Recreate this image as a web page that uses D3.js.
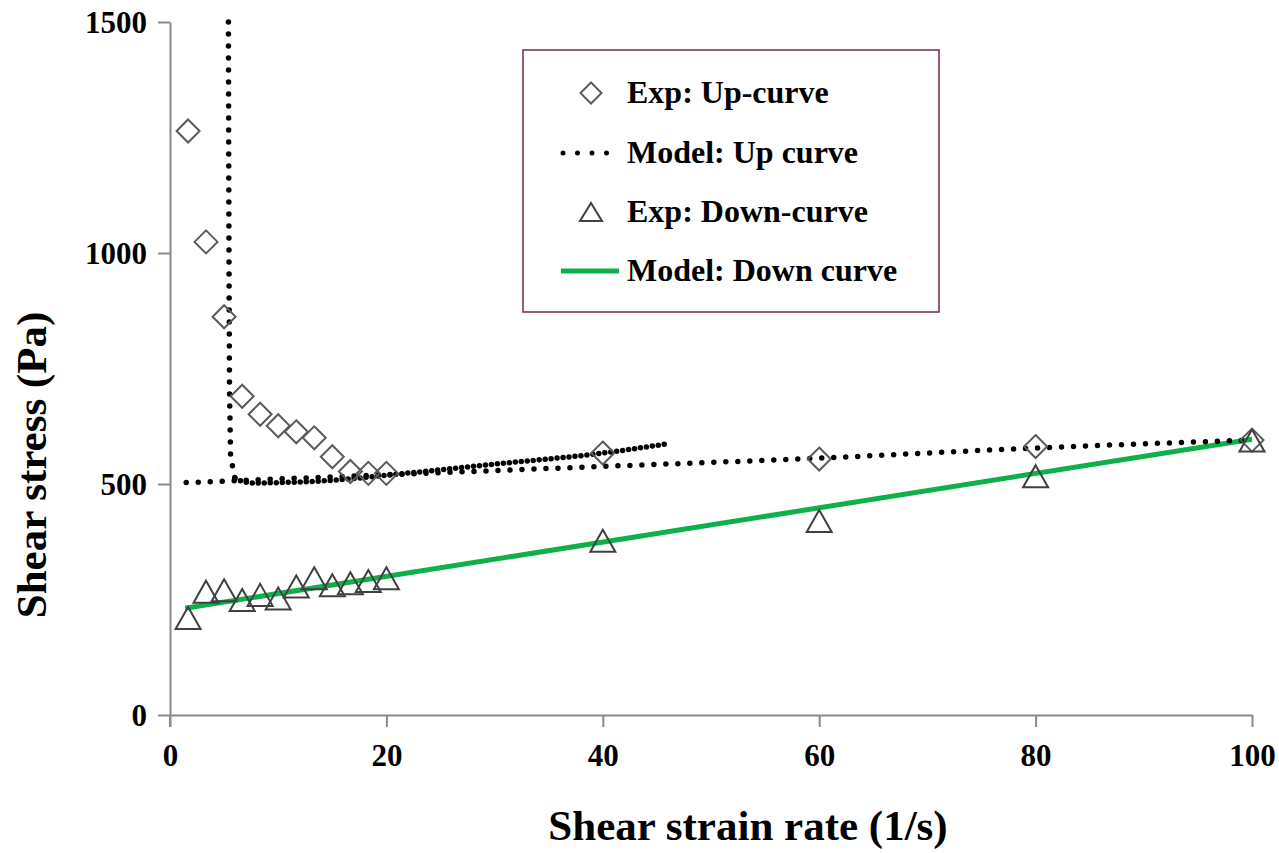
<!DOCTYPE html>
<html>
<head>
<meta charset="utf-8">
<script src="https://cdn.jsdelivr.net/npm/d3@7"></script>
<style>
  body { margin: 0; background: #fff; }
  text { font-family: "Liberation Serif", "Times New Roman", serif; font-weight: bold; }
</style>
</head>
<body>
<div id="chart"></div>
<script>
// experimental up curve (diamonds)
var upX = [1.67, 3.33, 5, 6.67, 8.33, 10, 11.67, 13.33, 15, 16.67, 18.33, 20, 40, 60, 80, 100];
var upY = [1264, 1024, 862, 690, 651, 626, 613, 600, 559, 527, 523, 523, 567, 554, 581, 595];

// experimental down curve (triangles)
var downX = [1.67, 3.33, 5, 6.67, 8.33, 10, 11.67, 13.33, 15, 16.67, 18.33, 20, 40, 60, 80, 100];
var downY = [210, 267, 270, 249, 260, 252, 278, 296, 281, 285, 290, 296, 377, 420, 517, 594];

// model up curve: long base branch, spike and the short dense branch
var modelBaseX = [1.5, 20, 40, 60, 80, 100];
var modelBaseY = [503, 520, 538, 556, 578, 595];
var modelSpikeX = [5.4, 5.45, 5.5, 5.6, 6.0];
var modelSpikeY = [1500, 1000, 700, 560, 512];
var modelDenseX = [6.0, 7, 8, 10, 15, 20, 30, 40, 46];
var modelDenseY = [512, 504, 502, 503, 508, 519, 543, 567, 587];

// model down curve (green line)
var modelDownX = [1.4, 100];
var modelDownY = [231, 597];

var xTicks = [0, 20, 40, 60, 80, 100];
var yTicks = [0, 500, 1000, 1500];

var legendLabels = ["Exp: Up-curve", "Model: Up curve", "Exp: Down-curve", "Model: Down curve"];

var width = 1279, height = 853;
var svg = d3.select("#chart").append("svg")
    .attr("width", width)
    .attr("height", height);

var x = d3.scaleLinear().domain([0, 100]).range([170, 1252]);
var y = d3.scaleLinear().domain([0, 1500]).range([715, 22]);

var axisColor = "#8a8a8a";

// X axis
var gx = svg.append("g")
    .attr("transform", "translate(0," + y(0) + ")")
    .call(d3.axisBottom(x).tickValues(xTicks).tickFormat(d3.format("d"))
      .tickSize(12).tickSizeOuter(0).tickPadding(17));
// Y axis
var gy = svg.append("g")
    .attr("transform", "translate(" + x(0) + ",0)")
    .call(d3.axisLeft(y).tickValues(yTicks).tickFormat(d3.format("d"))
      .tickSize(12).tickSizeOuter(0).tickPadding(11));

[gx, gy].forEach(function(g) {
  g.select(".domain").attr("stroke", axisColor).attr("stroke-width", 2);
  g.selectAll(".tick line").attr("stroke", axisColor).attr("stroke-width", 2);
  g.selectAll(".tick text")
    .attr("fill", "#000")
    .style("font-family", '"Liberation Serif", serif')
    .style("font-weight", "bold")
    .style("font-size", "31px");
});
// y axis continues down to the x tick length
svg.append("line")
    .attr("x1", x(0)).attr("x2", x(0))
    .attr("y1", y(0)).attr("y2", y(0) + 12)
    .attr("stroke", axisColor).attr("stroke-width", 2);
gy.selectAll(".tick text").attr("dy", "0.35em");

// axis titles
svg.append("text")
    .attr("x", 748)
    .attr("y", 840)
    .attr("text-anchor", "middle")
    .style("font-size", "43px")
    .text("Shear strain rate (1/s)");
svg.append("text")
    .attr("transform", "translate(46," + 465 + ") rotate(-90)")
    .attr("text-anchor", "middle")
    .style("font-size", "43px")
    .text("Shear stress (Pa)");

var line = d3.line()
    .x(function(d) { return x(d[0]); })
    .y(function(d) { return y(d[1]); });

function zip(a, b) { return a.map(function(v, i) { return [v, b[i]]; }); }

// green model down curve
svg.append("path")
    .datum(zip(modelDownX, modelDownY))
    .attr("d", line)
    .attr("fill", "none")
    .attr("stroke", "#0fb04c")
    .attr("stroke-width", 5);

// dotted model up curve
function dotted(xs, ys, gap, curve) {
  var l = d3.line()
    .x(function(d) { return x(d[0]); })
    .y(function(d) { return y(d[1]); })
    .curve(curve);
  svg.append("path")
    .datum(zip(xs, ys))
    .attr("d", l)
    .attr("fill", "none")
    .attr("stroke", "#000")
    .attr("stroke-width", 5.5)
    .attr("stroke-linecap", "round")
    .attr("stroke-dasharray", "0 " + gap);
}
dotted(modelBaseX, modelBaseY, 12, d3.curveMonotoneX);
dotted(modelSpikeX, modelSpikeY, 12, d3.curveLinear);
dotted(modelDenseX, modelDenseY, 6, d3.curveMonotoneX);

// marker shapes
var diamondPath = "M0,-11.5L11.5,0L0,11.5L-11.5,0Z";
var trianglePath = "M0,-11L12.5,11L-12.5,11Z";

svg.append("g").selectAll("path")
    .data(zip(upX, upY))
    .enter().append("path")
    .attr("d", diamondPath)
    .attr("transform", function(d) { return "translate(" + x(d[0]) + "," + y(d[1]) + ")"; })
    .attr("fill", "none")
    .attr("stroke", "#5a5a5a")
    .attr("stroke-width", 2);

svg.append("g").selectAll("path")
    .data(zip(downX, downY))
    .enter().append("path")
    .attr("d", trianglePath)
    .attr("transform", function(d) { return "translate(" + x(d[0]) + "," + y(d[1]) + ")"; })
    .attr("fill", "none")
    .attr("stroke", "#404040")
    .attr("stroke-width", 2);

// legend
var legend = svg.append("g");
legend.append("rect")
    .attr("x", 523).attr("y", 50)
    .attr("width", 416).attr("height", 262)
    .attr("fill", "#fff")
    .attr("stroke", "#7a2352")
    .attr("stroke-width", 1.5);

var rowY = [93, 153, 212, 271];
legendLabels.forEach(function(label, i) {
  legend.append("text")
    .attr("x", 627)
    .attr("y", rowY[i])
    .attr("dy", "0.32em")
    .style("font-size", "32px")
    .text(label);
});
legend.append("path")
    .attr("d", "M0,-10.5L10.5,0L0,10.5L-10.5,0Z")
    .attr("transform", "translate(591," + rowY[0] + ")")
    .attr("fill", "none").attr("stroke", "#5a5a5a").attr("stroke-width", 2);
legend.append("line")
    .attr("x1", 563).attr("x2", 621)
    .attr("y1", rowY[1]).attr("y2", rowY[1])
    .attr("stroke", "#000").attr("stroke-width", 5)
    .attr("stroke-linecap", "round")
    .attr("stroke-dasharray", "0 14.5");
legend.append("path")
    .attr("d", "M0,-9L11,9L-11,9Z")
    .attr("transform", "translate(591," + rowY[2] + ")")
    .attr("fill", "none").attr("stroke", "#404040").attr("stroke-width", 2);
legend.append("line")
    .attr("x1", 561).attr("x2", 619)
    .attr("y1", rowY[3]).attr("y2", rowY[3])
    .attr("stroke", "#0fb04c").attr("stroke-width", 5);
</script>
</body>
</html>
